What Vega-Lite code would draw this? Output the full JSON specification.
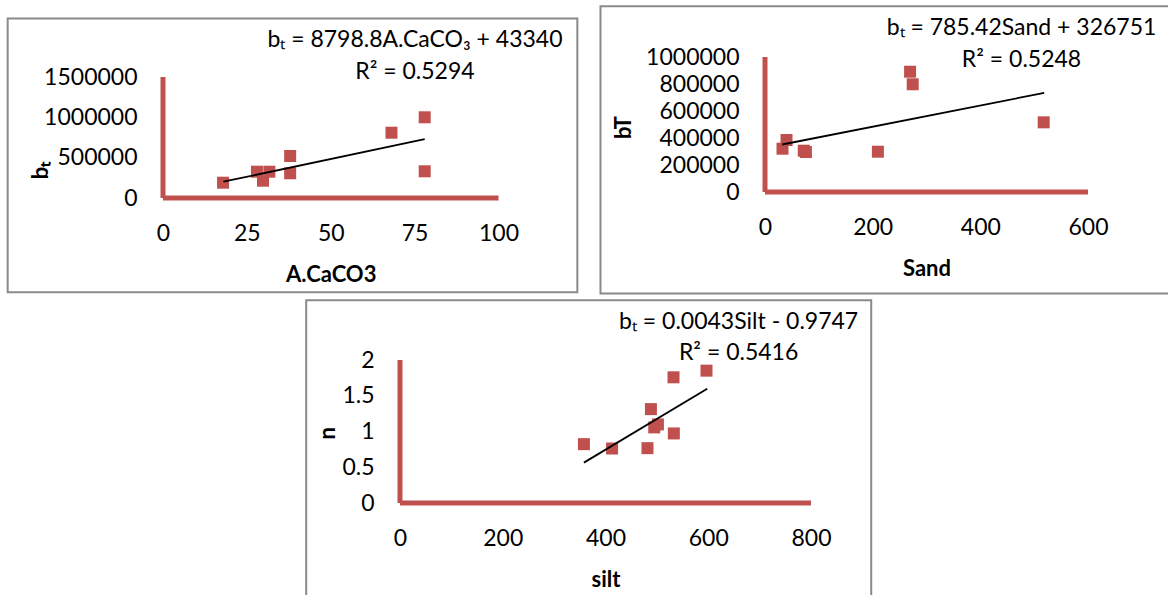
{
  "$schema": "https://vega.github.io/schema/vega-lite/v6.json",
  "background": "white",
  "padding": {"left": 6, "top": 5, "right": 0, "bottom": 0},
  "bounds": "flush",
  "spacing": 303,
  "config": {
    "view": {"stroke": null},
    "font": "Lato",
    "axis": {"domain": false, "ticks": false, "tickSize": 0, "grid": false, "tickCount": 20, "labelFontSize": 23, "labelColor": "#000000", "titleColor": "#000000", "titleFontSize": 22, "titleFontWeight": "bold", "labelFont": "Lato", "titleFont": "Lato", "labelFlush": false, "labelOverlap": false, "labelBound": false},
    "axisX": {"labelPadding": 24, "titleBaseline": "alphabetic", "titleY": 83, "titleAlign": "center"},
    "axisY": {"labelPadding": 26, "titleAngle": 270, "titleBaseline": "alphabetic", "titleAlign": "center"}
  },
  "datasets": {
    "one": [{"k": 1}],
    "p1": [{"x": 17.9, "y": 189700}, {"x": 28.0, "y": 326000}, {"x": 29.8, "y": 214500}, {"x": 31.7, "y": 326000}, {"x": 37.9, "y": 520700}, {"x": 37.9, "y": 306200}, {"x": 68.1, "y": 809500}, {"x": 78.0, "y": 1000400}, {"x": 78.0, "y": 331000}],
    "t1": [{"x": 18, "y": 201718}, {"x": 78, "y": 729646}],
    "p2": [{"x": 32.5, "y": 320700}, {"x": 40, "y": 385000}, {"x": 72, "y": 306000}, {"x": 76, "y": 296000}, {"x": 209.7, "y": 298500}, {"x": 269.5, "y": 891000}, {"x": 274.4, "y": 798000}, {"x": 517.7, "y": 516000}],
    "t2": [{"x": 32, "y": 351884}, {"x": 518.7, "y": 734148}],
    "p3": [{"x": 358, "y": 0.823}, {"x": 412.8, "y": 0.762}, {"x": 481.7, "y": 0.767}, {"x": 488.4, "y": 1.313}, {"x": 494.9, "y": 1.057}, {"x": 502, "y": 1.099}, {"x": 533, "y": 0.973}, {"x": 532.4, "y": 1.758}, {"x": 596.6, "y": 1.851}],
    "t3": [{"x": 358, "y": 0.5647}, {"x": 598, "y": 1.5967}],
    "e1": [{"eq": "bₜ = 8798.8A.CaCO₃ + 43340", "r2": "R² = 0.5294"}],
    "e2": [{"eq": "bₜ = 785.42Sand + 326751", "r2": "R² = 0.5248"}],
    "e3": [{"eq": "bₜ = 0.0043Silt - 0.9747", "r2": "R² = 0.5416"}]
  },
  "vconcat": [
    {
      "bounds": "flush",
      "spacing": 266,
      "hconcat": [
        {
          "width": 335.5,
          "height": 141,
          "layer": [
            {
              "data": {"name": "one"},
              "mark": {"type": "rect", "fillOpacity": 0, "stroke": "#8a8a8a", "strokeWidth": 2},
              "encoding": {
                "x": {"datum": -46.3, "type": "quantitative", "scale": {"domain": [0, 100], "nice": false, "zero": false}},
                "x2": {"datum": 123.5},
                "y": {"datum": 2225200, "type": "quantitative", "scale": {"domain": [0, 1747934], "nice": false, "zero": false}},
                "y2": {"datum": -1169000}
              }
            },
            {
              "data": {"name": "one"},
              "mark": {"type": "rule", "color": "#C0504D", "strokeWidth": 5},
              "encoding": {
                "x": {"datum": 0, "type": "quantitative", "scale": {"domain": [0, 100], "nice": false, "zero": false}},
                "y": {"datum": 0, "type": "quantitative", "scale": {"domain": [0, 1747934], "nice": false, "zero": false}},
                "y2": {"datum": 1500000}
              }
            },
            {
              "data": {"name": "one"},
              "mark": {"type": "rule", "color": "#C0504D", "strokeWidth": 5},
              "encoding": {
                "x": {"datum": 0, "type": "quantitative", "scale": {"domain": [0, 100], "nice": false, "zero": false}},
                "x2": {"datum": 100},
                "y": {"datum": 0, "type": "quantitative", "scale": {"domain": [0, 1747934], "nice": false, "zero": false}}
              }
            },
            {
              "data": {"name": "p1"},
              "mark": {"type": "point", "shape": "square", "filled": true, "size": 144, "color": "#C0504D", "opacity": 1},
              "encoding": {
                "x": {"field": "x", "type": "quantitative", "scale": {"domain": [0, 100], "nice": false, "zero": false}, "axis": {"values": [0, 25, 50, 75, 100], "tickCount": 20, "labelOverlap": false, "title": "A.CaCO3"}},
                "y": {"field": "y", "type": "quantitative", "scale": {"domain": [0, 1747934], "nice": false, "zero": false}, "axis": {"values": [0, 500000, 1000000, 1500000], "tickCount": 20, "labelOverlap": false, "format": "d", "title": "bₜ", "titleX": -116, "titleY": 113}}
              }
            },
            {
              "data": {"name": "t1"},
              "mark": {"type": "line", "color": "#000000", "strokeWidth": 1.8},
              "encoding": {
                "x": {"field": "x", "type": "quantitative", "scale": {"domain": [0, 100], "nice": false, "zero": false}},
                "y": {"field": "y", "type": "quantitative", "scale": {"domain": [0, 1747934], "nice": false, "zero": false}}
              }
            },
            {
              "data": {"name": "e1"},
              "mark": {"type": "text", "fontSize": 23, "font": "Lato", "align": "center", "baseline": "middle", "color": "#000000"},
              "encoding": {
                "x": {"datum": 75.1, "type": "quantitative", "scale": {"domain": [0, 100], "nice": false, "zero": false}},
                "y": {"datum": 1958680, "type": "quantitative", "scale": {"domain": [0, 1747934], "nice": false, "zero": false}},
                "text": {"field": "eq"}
              }
            },
            {
              "data": {"name": "e1"},
              "mark": {"type": "text", "fontSize": 23, "font": "Lato", "align": "center", "baseline": "middle", "color": "#000000"},
              "encoding": {
                "x": {"datum": 75.1, "type": "quantitative", "scale": {"domain": [0, 100], "nice": false, "zero": false}},
                "y": {"datum": 1561980, "type": "quantitative", "scale": {"domain": [0, 1747934], "nice": false, "zero": false}},
                "text": {"field": "r2"}
              }
            }
          ]
        },
        {
          "width": 323,
          "height": 135,
          "layer": [
            {
              "data": {"name": "one"},
              "mark": {"type": "rect", "fillOpacity": 0, "stroke": "#8a8a8a", "strokeWidth": 2},
              "encoding": {
                "x": {"datum": -305.6, "type": "quantitative", "scale": {"domain": [0, 600], "nice": false, "zero": false}},
                "x2": {"datum": 764.4},
                "y": {"datum": 1375555, "type": "quantitative", "scale": {"domain": [0, 1000000], "nice": false, "zero": false}},
                "y2": {"datum": -751852}
              }
            },
            {
              "data": {"name": "one"},
              "mark": {"type": "rule", "color": "#C0504D", "strokeWidth": 5},
              "encoding": {
                "x": {"datum": 0, "type": "quantitative", "scale": {"domain": [0, 600], "nice": false, "zero": false}},
                "y": {"datum": 0, "type": "quantitative", "scale": {"domain": [0, 1000000], "nice": false, "zero": false}},
                "y2": {"datum": 1000000}
              }
            },
            {
              "data": {"name": "one"},
              "mark": {"type": "rule", "color": "#C0504D", "strokeWidth": 5},
              "encoding": {
                "x": {"datum": 0, "type": "quantitative", "scale": {"domain": [0, 600], "nice": false, "zero": false}},
                "x2": {"datum": 600},
                "y": {"datum": 0, "type": "quantitative", "scale": {"domain": [0, 1000000], "nice": false, "zero": false}}
              }
            },
            {
              "data": {"name": "p2"},
              "mark": {"type": "point", "shape": "square", "filled": true, "size": 144, "color": "#C0504D", "opacity": 1},
              "encoding": {
                "x": {"field": "x", "type": "quantitative", "scale": {"domain": [0, 600], "nice": false, "zero": false}, "axis": {"values": [0, 200, 400, 600], "tickCount": 20, "labelOverlap": false, "title": "Sand"}},
                "y": {"field": "y", "type": "quantitative", "scale": {"domain": [0, 1000000], "nice": false, "zero": false}, "axis": {"values": [0, 200000, 400000, 600000, 800000, 1000000], "tickCount": 20, "labelOverlap": false, "format": "d", "title": "bT", "titleX": -135, "titleY": 70}}
              }
            },
            {
              "data": {"name": "t2"},
              "mark": {"type": "line", "color": "#000000", "strokeWidth": 1.8},
              "encoding": {
                "x": {"field": "x", "type": "quantitative", "scale": {"domain": [0, 600], "nice": false, "zero": false}},
                "y": {"field": "y", "type": "quantitative", "scale": {"domain": [0, 1000000], "nice": false, "zero": false}}
              }
            },
            {
              "data": {"name": "e2"},
              "mark": {"type": "text", "fontSize": 23, "font": "Lato", "align": "center", "baseline": "middle", "color": "#000000"},
              "encoding": {
                "x": {"datum": 476.5, "type": "quantitative", "scale": {"domain": [0, 600], "nice": false, "zero": false}},
                "y": {"datum": 1212600, "type": "quantitative", "scale": {"domain": [0, 1000000], "nice": false, "zero": false}},
                "text": {"field": "eq"}
              }
            },
            {
              "data": {"name": "e2"},
              "mark": {"type": "text", "fontSize": 23, "font": "Lato", "align": "center", "baseline": "middle", "color": "#000000"},
              "encoding": {
                "x": {"datum": 476.5, "type": "quantitative", "scale": {"domain": [0, 600], "nice": false, "zero": false}},
                "y": {"datum": 977780, "type": "quantitative", "scale": {"domain": [0, 1000000], "nice": false, "zero": false}},
                "text": {"field": "r2"}
              }
            }
          ]
        }
      ]
    },
    {
      "width": 648,
      "height": 143,
      "layer": [
        {
          "data": {"name": "one"},
          "mark": {"type": "rect", "fillOpacity": 0, "stroke": "#8a8a8a", "strokeWidth": 2},
          "encoding": {
            "x": {"datum": -182.6, "type": "quantitative", "scale": {"domain": [-461.3, 800], "nice": false, "zero": false}},
            "x2": {"datum": 917.2},
            "y": {"datum": 2.836, "type": "quantitative", "scale": {"domain": [0, 2], "nice": false, "zero": false}},
            "y2": {"datum": -1.357}
          }
        },
        {
          "data": {"name": "one"},
          "mark": {"type": "rule", "color": "#C0504D", "strokeWidth": 5},
          "encoding": {
            "x": {"datum": 0, "type": "quantitative", "scale": {"domain": [-461.3, 800], "nice": false, "zero": false}},
            "y": {"datum": 0, "type": "quantitative", "scale": {"domain": [0, 2], "nice": false, "zero": false}},
            "y2": {"datum": 2}
          }
        },
        {
          "data": {"name": "one"},
          "mark": {"type": "rule", "color": "#C0504D", "strokeWidth": 5},
          "encoding": {
            "x": {"datum": 0, "type": "quantitative", "scale": {"domain": [-461.3, 800], "nice": false, "zero": false}},
            "x2": {"datum": 800},
            "y": {"datum": 0, "type": "quantitative", "scale": {"domain": [0, 2], "nice": false, "zero": false}}
          }
        },
        {
          "data": {"name": "p3"},
          "mark": {"type": "point", "shape": "square", "filled": true, "size": 144, "color": "#C0504D", "opacity": 1},
          "encoding": {
            "x": {"field": "x", "type": "quantitative", "scale": {"domain": [-461.3, 800], "nice": false, "zero": false}, "axis": {"values": [0, 200, 400, 600, 800], "tickCount": 20, "labelOverlap": false, "title": "silt", "titleX": 442.5}},
            "y": {"field": "y", "type": "quantitative", "scale": {"domain": [0, 2], "nice": false, "zero": false}, "axis": {"values": [0, 0.5, 1, 1.5, 2], "tickCount": 20, "labelOverlap": false, "format": "~g", "title": "n", "offset": -237, "titleX": -65.8, "titleY": 72.7}}
          }
        },
        {
          "data": {"name": "t3"},
          "mark": {"type": "line", "color": "#000000", "strokeWidth": 1.8},
          "encoding": {
            "x": {"field": "x", "type": "quantitative", "scale": {"domain": [-461.3, 800], "nice": false, "zero": false}},
            "y": {"field": "y", "type": "quantitative", "scale": {"domain": [0, 2], "nice": false, "zero": false}}
          }
        },
        {
          "data": {"name": "e3"},
          "mark": {"type": "text", "fontSize": 23, "font": "Lato", "align": "center", "baseline": "middle", "color": "#000000"},
          "encoding": {
            "x": {"datum": 659.1, "type": "quantitative", "scale": {"domain": [-461.3, 800], "nice": false, "zero": false}},
            "y": {"datum": 2.536, "type": "quantitative", "scale": {"domain": [0, 2], "nice": false, "zero": false}},
            "text": {"field": "eq"}
          }
        },
        {
          "data": {"name": "e3"},
          "mark": {"type": "text", "fontSize": 23, "font": "Lato", "align": "center", "baseline": "middle", "color": "#000000"},
          "encoding": {
            "x": {"datum": 659.1, "type": "quantitative", "scale": {"domain": [-461.3, 800], "nice": false, "zero": false}},
            "y": {"datum": 2.094, "type": "quantitative", "scale": {"domain": [0, 2], "nice": false, "zero": false}},
            "text": {"field": "r2"}
          }
        }
      ]
    }
  ]
}
